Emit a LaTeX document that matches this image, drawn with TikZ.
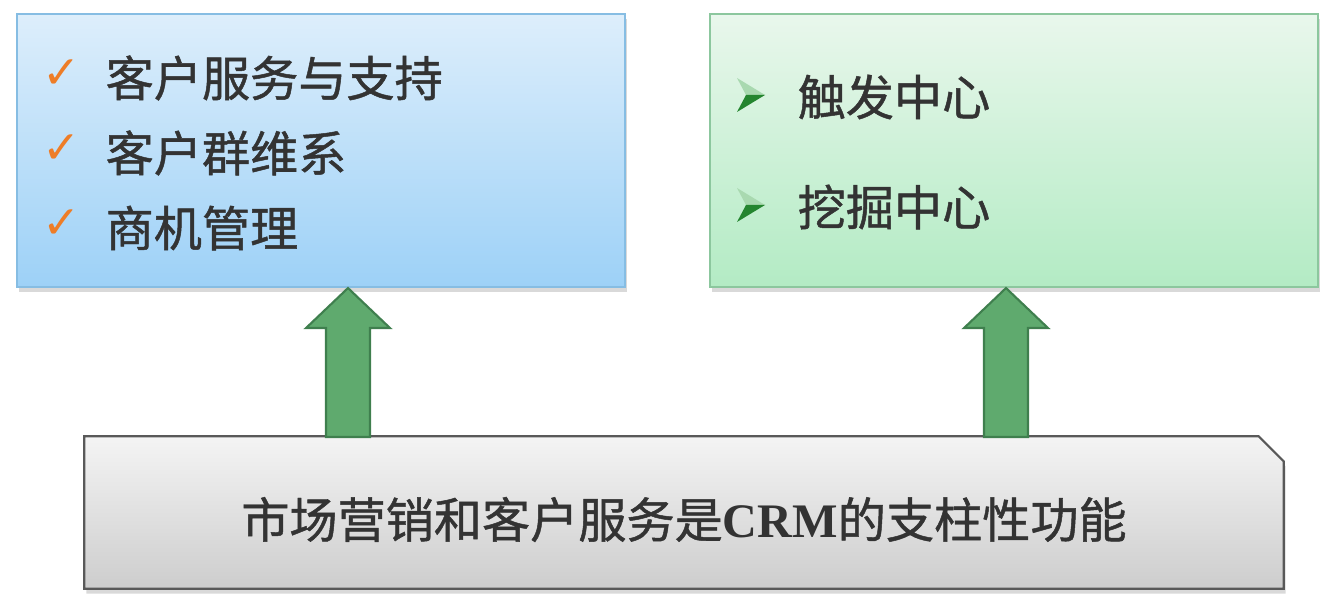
\documentclass[tikz,border=0pt]{standalone}
\usepackage{fontspec}
\setmainfont{Liberation Serif}
\newfontfamily\cjk[FakeBold=1]{Noto Sans CJK SC}
\newfontfamily\sym{DejaVu Sans}
\usetikzlibrary{positioning,shadows,backgrounds}

\definecolor{bluetop}{HTML}{DDEEFB}
\definecolor{bluebot}{HTML}{9DD1F7}
\definecolor{blueedge}{HTML}{86BDE3}
\definecolor{greentop}{HTML}{E9F7EC}
\definecolor{greenbot}{HTML}{B3EBC4}
\definecolor{greenedge}{HTML}{8CC79E}
\definecolor{basetop}{HTML}{F4F4F4}
\definecolor{basebot}{HTML}{CDCDCD}
\definecolor{arrowgreen}{HTML}{5FAA6E}
\definecolor{arrowedge}{HTML}{3F7F4E}
\definecolor{tickorange}{HTML}{EE7D27}
\definecolor{pointgreen}{HTML}{24852F}
\definecolor{pointlight}{HTML}{A9D9B0}

\newcommand\liftarrow[2]{%
  \filldraw[upar] ([xshift=-0.22cm]#1) -- ([xshift=-0.22cm,yshift=-0.40cm]#2)
    -- ([xshift=-0.42cm,yshift=-0.40cm]#2) -- (#2)
    -- ([xshift=0.42cm,yshift=-0.40cm]#2) -- ([xshift=0.22cm,yshift=-0.40cm]#2)
    -- ([xshift=0.22cm]#1) -- cycle;}

\begin{document}
\begin{tikzpicture}[
  box/.style = {rectangle, minimum width=6.08cm, minimum height=2.73cm, line width=0.6pt,
    drop shadow={shadow xshift=0.02cm, shadow yshift=-0.05cm, opacity=0.3}},
  item/.style = {anchor=west, inner sep=0pt, font=\cjk\fontsize{13.7pt}{16pt}\selectfont, text=black!80},
  tick/.style = {inner sep=0pt, font=\sym\fontsize{13pt}{15pt}\selectfont, text=tickorange},
  upar/.style = {fill=arrowgreen, draw=arrowedge, line width=0.6pt},
  pointer/.pic = {
    \fill[pointlight] (-0.14,0.17) -- (0.14,0) -- (-0.05,0) -- cycle;
    \fill[pointgreen] (-0.05,0) -- (0.14,0) -- (-0.14,-0.17) -- cycle;}
]
\useasboundingbox (0,0) rectangle (13.34,6.06);

\node[box, draw=blueedge, top color=bluetop, bottom color=bluebot] (serv) at (3.21,4.555) {};
\node[box, draw=greenedge, top color=greentop, bottom color=greenbot] (mine) at (10.14,4.555) {};

\node[item] (s1) at (1.05,5.28) {客户服务与支持};
\node[item, below=0.75cm of s1.west, anchor=west] (s2) {客户群维系};
\node[item, below=0.75cm of s2.west, anchor=west] (s3) {商机管理};
\node[tick, left=0.32cm of s1.west, xshift=0.08cm, yshift=0.04cm] (t1) {✓};
\node[tick, left=0.32cm of s2.west, xshift=0.08cm, yshift=0.04cm] (t2) {✓};
\node[tick, left=0.32cm of s3.west, xshift=0.08cm, yshift=0.04cm] (t3) {✓};

\node[item] (m1) at (7.97,5.09) {触发中心};
\node[item, below=1.10cm of m1.west, anchor=west] (m2) {挖掘中心};
\pic at ([xshift=-0.46cm,yshift=0.02cm]m1.west) {pointer};
\pic at ([xshift=-0.46cm,yshift=0.02cm]m2.west) {pointer};

\coordinate (f1) at (3.48,1.69);
\coordinate (f2) at (10.06,1.69);
\liftarrow{f1}{f1 |- serv.south}
\liftarrow{f2}{f2 |- mine.south}

\node[minimum width=11.98cm, minimum height=1.51cm, inner sep=0pt] (base) at (6.84,0.935) {};
\begin{scope}[on background layer]
\draw[draw=black!65, line width=0.6pt, top color=basetop, bottom color=basebot,
  drop shadow={shadow xshift=0.02cm, shadow yshift=-0.05cm, opacity=0.3}]
  (base.south west) -- (base.north west) -- ([xshift=-0.25cm]base.north east)
  -- ([yshift=-0.25cm]base.north east) -- (base.south east) -- cycle;
\end{scope}
\node[font=\cjk\fontsize{13.7pt}{16pt}\selectfont, text=black!80] (motto) at ([yshift=-0.07cm]base.center)
  {市场营销和客户服务是{\rmfamily\bfseries CRM}的支柱性功能};
\end{tikzpicture}
\end{document}
